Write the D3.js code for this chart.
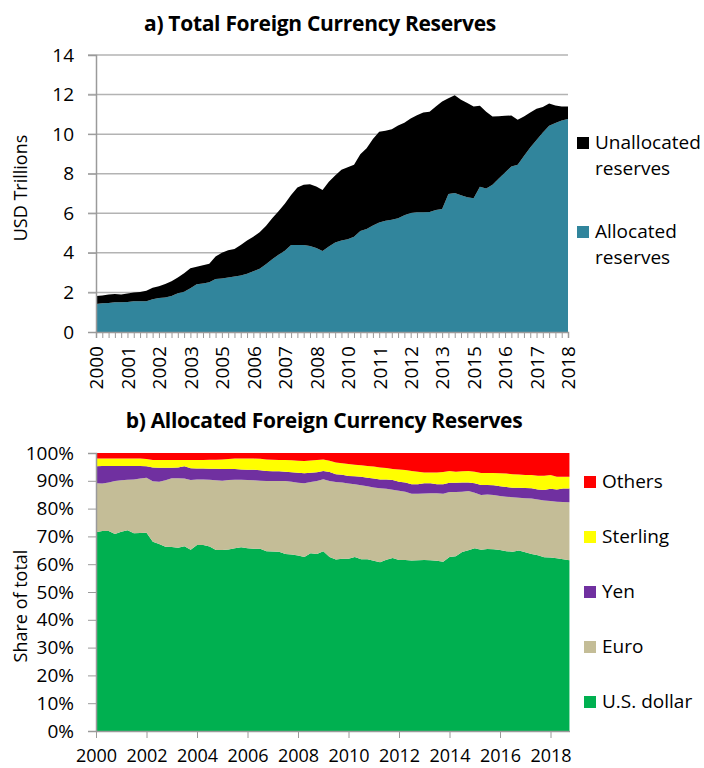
<!DOCTYPE html>
<html>
<head>
<meta charset="utf-8">
<script src="https://cdn.jsdelivr.net/npm/d3@7"></script>
<style>
body { margin: 0; background: #fff; }
text { font-family: "Open Sans", Lato, sans-serif; fill: #000; }
</style>
</head>
<body>
<div id="chart"></div>
<script>
// quarterly categories, 2000Q1 .. 2018Q4
var quarters = d3.range(2000, 2019).flatMap(function(y) {
	return [1, 2, 3, 4].map(function(q) { return y + "Q" + q; });
});

// a) reserves, USD trillions
var allocated = [1.42,1.45,1.47,1.50,1.50,1.52,1.55,1.55,1.55,1.65,1.72,1.75,1.82,1.96,2.04,2.21,2.41,2.45,2.51,2.68,
	2.70,2.75,2.80,2.85,2.95,3.07,3.20,3.42,3.68,3.90,4.11,4.40,4.40,4.40,4.35,4.25,4.10,4.32,4.52,4.62,
	4.69,4.82,5.11,5.21,5.38,5.53,5.62,5.67,5.75,5.90,6.02,6.05,6.05,6.07,6.16,6.22,6.98,7.02,6.91,6.81,
	6.76,7.34,7.25,7.44,7.76,8.06,8.36,8.45,8.90,9.33,9.71,10.08,10.42,10.56,10.69,10.76];
var unallocated = [0.40,0.40,0.42,0.42,0.40,0.42,0.45,0.47,0.54,0.59,0.59,0.68,0.74,0.79,0.93,1.01,0.89,0.92,0.94,1.13,
	1.31,1.38,1.40,1.55,1.67,1.75,1.84,1.94,2.07,2.20,2.37,2.53,2.90,3.04,3.12,3.10,3.08,3.28,3.39,3.58,
	3.64,3.63,3.88,4.08,4.37,4.59,4.55,4.58,4.69,4.67,4.77,4.91,5.05,5.06,5.24,5.43,4.84,4.94,4.83,4.76,
	4.64,4.09,3.88,3.45,3.15,2.87,2.58,2.28,1.99,1.77,1.57,1.29,1.13,0.89,0.71,0.64];

// b) currency shares of allocated reserves, percent
var usDollar = [71.5,71.9,71.9,70.9,71.7,72.2,71.1,71.2,71.3,68.1,67.3,66.3,66.2,65.9,66.5,65.2,66.9,66.9,66.4,65.1,
	65.1,65.3,65.7,66.1,65.7,65.6,65.6,64.7,64.6,64.5,63.7,63.5,63.1,62.6,63.9,63.7,64.7,62.6,61.7,62.0,
	62.0,62.6,61.8,61.8,61.2,60.7,61.6,62.2,61.5,61.5,61.3,61.4,61.5,61.4,61.2,60.9,62.6,62.9,64.4,65.0,
	65.7,65.2,65.5,65.4,65.1,64.7,64.5,64.9,64.3,63.7,63.2,62.5,62.4,62.1,61.8,61.4];
var euro = [17.6,17.1,17.5,19.0,18.5,18.2,19.4,19.6,19.8,21.7,22.4,23.9,24.7,25.0,24.3,25.1,23.6,23.6,24.0,25.1,
	24.9,25.0,24.7,24.3,24.6,24.6,24.4,25.2,25.3,25.4,26.2,26.2,26.2,26.5,25.7,26.2,25.9,27.3,27.9,27.4,
	27.0,26.2,26.6,26.2,26.4,26.6,25.5,24.6,24.9,24.6,24.0,23.9,23.9,24.1,24.3,24.4,23.4,23.1,21.7,21.3,
	20.0,19.7,19.6,19.5,19.4,19.6,19.6,19.0,19.4,19.9,20.1,20.4,20.3,20.4,20.6,20.9];
var yen = [6.1,6.3,5.9,5.4,5.1,4.9,4.8,4.5,4.1,5.0,5.0,4.5,3.8,3.9,4.4,4.2,3.9,3.9,3.9,4.1,
	4.2,3.9,3.8,3.7,3.7,3.8,3.8,3.6,3.5,3.5,3.4,3.4,3.6,3.6,3.3,3.2,2.9,3.3,2.8,2.8,
	2.7,2.8,3.1,3.1,3.2,3.2,3.4,3.5,3.3,3.3,3.5,3.5,3.7,3.6,3.3,3.5,3.3,3.3,3.3,3.1,
	3.4,3.6,3.4,3.5,3.5,3.5,3.4,3.6,3.7,3.7,3.6,3.8,4.4,4.4,4.8,4.9];
var sterling = [2.8,2.7,2.7,2.7,2.7,2.7,2.7,2.7,2.6,2.7,2.8,2.8,2.8,2.7,2.3,3.0,3.1,3.1,3.3,3.3,
	3.5,3.6,3.8,3.9,4.0,4.0,4.1,4.2,4.2,4.1,4.2,4.3,4.3,4.4,4.4,4.4,4.2,4.0,4.2,4.1,
	4.3,4.2,4.1,4.2,4.3,4.3,4.1,3.9,4.4,4.5,4.7,4.5,3.9,3.9,4.2,4.4,4.2,4.0,4.0,4.1,
	4.2,4.3,4.3,4.4,4.7,4.8,4.9,4.8,4.7,4.8,4.9,5.1,5.0,4.6,4.3,4.3];
var others = [2.0,2.0,2.0,2.0,2.0,2.0,2.0,2.0,2.2,2.5,2.5,2.5,2.5,2.5,2.5,2.5,2.5,2.5,2.4,2.4,
	2.3,2.2,2.0,2.0,2.0,2.0,2.1,2.3,2.4,2.5,2.5,2.6,2.8,2.9,2.7,2.5,2.3,2.8,3.4,3.7,
	4.0,4.2,4.4,4.7,4.9,5.2,5.4,5.8,5.9,6.1,6.5,6.7,7.0,7.0,7.0,6.8,6.5,6.7,6.6,6.5,
	6.7,7.2,7.2,7.2,7.3,7.4,7.6,7.7,7.9,7.9,8.2,8.2,7.9,8.5,8.5,8.5];

var topSeries = ["Allocated reserves", "Unallocated reserves"];
var bottomSeries = ["U.S. dollar", "Euro", "Yen", "Sterling", "Others"];
var bottomYears = [2000, 2002, 2004, 2006, 2008, 2010, 2012, 2014, 2016, 2018];

var w = 704, h = 768;
var svg = d3.select("#chart").append("svg")
	.attr("width", w)
	.attr("height", h);

var gridColor = "#b3b3b3";
var axisColor = "#9a9a9a";

//////////////////////////////
// a) Total Foreign Currency Reserves
var top1 = {left: 96, right: 568, top: 55, bottom: 332};

var x1 = d3.scalePoint().domain(quarters).range([top1.left, top1.right]);
var y1 = d3.scaleLinear().domain([0, 14]).range([top1.bottom, top1.top]);

var rows1 = quarters.map(function(q, i) {
	return {q: q, allocated: allocated[i], unallocated: unallocated[i]};
});
var stack1 = d3.stack().keys(["allocated", "unallocated"])(rows1);
var colors1 = ["#31859c", "#000000"];

// gridlines
svg.append("g")
	.selectAll("line")
	.data(d3.range(2, 15, 2))
	.enter()
	.append("line")
	.attr("x1", top1.left - 8)
	.attr("x2", top1.right)
	.attr("y1", function(d) { return y1(d); })
	.attr("y2", function(d) { return y1(d); })
	.attr("stroke", gridColor)
	.attr("stroke-width", 1.5);

var area1 = d3.area()
	.x(function(d) { return x1(d.data.q); })
	.y0(function(d) { return y1(d[0]); })
	.y1(function(d) { return y1(d[1]); });

svg.append("g")
	.selectAll("path")
	.data(stack1)
	.enter()
	.append("path")
	.attr("d", area1)
	.attr("fill", function(d, i) { return colors1[i]; });

// y axis
var yAxis1 = svg.append("g")
	.attr("transform", "translate(" + top1.left + ",0)")
	.call(d3.axisLeft(y1).tickValues(d3.range(0, 15, 2)).tickSize(8).tickPadding(14));

// x axis: a tick for every quarter, a label every fifth
var xAxis1 = svg.append("g")
	.attr("transform", "translate(0," + top1.bottom + ")")
	.call(d3.axisBottom(x1)
		.tickSize(6)
		.tickFormat(function(d, i) { return i % 5 === 0 ? d.slice(0, 4) : ""; }));
xAxis1.selectAll("text")
	.attr("transform", "rotate(-90)")
	.attr("text-anchor", "end")
	.attr("x", -14)
	.attr("y", 0)
	.attr("dy", "0.36em");

svg.append("text")
	.attr("transform", "translate(27," + 188 + ") rotate(-90)")
	.attr("text-anchor", "middle")
	.attr("font-size", "18px")
	.text("USD Trillions");

svg.append("text")
	.attr("x", 320)
	.attr("y", 31)
	.attr("text-anchor", "middle")
	.attr("font-size", "21px")
	.attr("font-weight", "bold")
	.attr("letter-spacing", "-0.3px")
	.text("a) Total Foreign Currency Reserves");

// legend (unallocated listed first)
var legend1 = svg.append("g")
	.selectAll("g")
	.data([1, 0])
	.enter()
	.append("g")
	.attr("transform", function(d, i) { return "translate(577," + (137 + i * 89) + ")"; });
legend1.append("rect")
	.attr("width", 12)
	.attr("height", 12)
	.attr("fill", function(d) { return colors1[d]; });
legend1.append("text")
	.attr("x", 18)
	.attr("y", 12)
	.attr("font-size", "19px")
	.selectAll("tspan")
	.data(function(d) { return topSeries[d].split(" "); })
	.enter()
	.append("tspan")
	.attr("x", 18)
	.attr("dy", function(d, i) { return i === 0 ? 0 : 26; })
	.text(function(d) { return d; });

//////////////////////////////
// b) Allocated Foreign Currency Reserves
var bot = {left: 96, right: 570, top: 453, bottom: 731};

var x2 = d3.scaleLinear().domain([2000, 2018]).range([96, 550.5]);
var y2 = d3.scaleLinear().domain([0, 1]).range([bot.bottom, bot.top]);

var rows2 = quarters.map(function(q, i) {
	return {t: 2000 + i / 4, usd: usDollar[i], eur: euro[i], jpy: yen[i], gbp: sterling[i], oth: others[i]};
});
var stack2 = d3.stack()
	.keys(["usd", "eur", "jpy", "gbp", "oth"])
	.offset(d3.stackOffsetExpand)(rows2);
var colors2 = ["#00b050", "#c4bd97", "#7030a0", "#ffff00", "#ff0000"];

var area2 = d3.area()
	.x(function(d) { return x2(d.data.t); })
	.y0(function(d) { return y2(d[0]); })
	.y1(function(d) { return y2(d[1]); });

svg.append("g")
	.selectAll("path")
	.data(stack2)
	.enter()
	.append("path")
	.attr("d", area2)
	.attr("fill", function(d, i) { return colors2[i]; });

var yAxis2 = svg.append("g")
	.attr("transform", "translate(" + bot.left + ",0)")
	.call(d3.axisLeft(y2).ticks(10).tickFormat(d3.format(".0%")).tickSize(8).tickPadding(14));

var xAxis2 = svg.append("g")
	.attr("transform", "translate(0," + bot.bottom + ")")
	.call(d3.axisBottom(x2).tickValues(bottomYears).tickFormat(d3.format("d")).tickSize(7));
xAxis2.select(".domain").attr("d", "M" + bot.left + ",0.5H" + bot.right);

svg.append("text")
	.attr("transform", "translate(27," + 606 + ") rotate(-90)")
	.attr("text-anchor", "middle")
	.attr("font-size", "18px")
	.text("Share of total");

svg.append("text")
	.attr("x", 324)
	.attr("y", 428)
	.attr("text-anchor", "middle")
	.attr("font-size", "21px")
	.attr("font-weight", "bold")
	.attr("letter-spacing", "-0.3px")
	.text("b) Allocated Foreign Currency Reserves");

var legend2 = svg.append("g")
	.selectAll("g")
	.data([4, 3, 2, 1, 0])
	.enter()
	.append("g")
	.attr("transform", function(d, i) { return "translate(584," + (476 + i * 55) + ")"; });
legend2.append("rect")
	.attr("width", 12)
	.attr("height", 12)
	.attr("fill", function(d) { return colors2[d]; });
legend2.append("text")
	.attr("x", 18)
	.attr("y", 12)
	.attr("font-size", "19px")
	.text(function(d) { return bottomSeries[d]; });

// shared axis styling
svg.selectAll(".domain").attr("stroke", axisColor).attr("stroke-width", 1.5);
svg.selectAll(".tick line").attr("stroke", axisColor);
svg.selectAll(".tick text").attr("font-size", "19px").attr("fill", "#000");
// bottom year labels sit just above the page edge
xAxis2.selectAll(".tick text")
	.attr("font-size", "18px")
	.attr("y", 31)
	.attr("dy", 0);
[yAxis1, yAxis2, xAxis1, xAxis2].forEach(function(a) { a.attr("font-family", null); });
</script>
</body>
</html>
